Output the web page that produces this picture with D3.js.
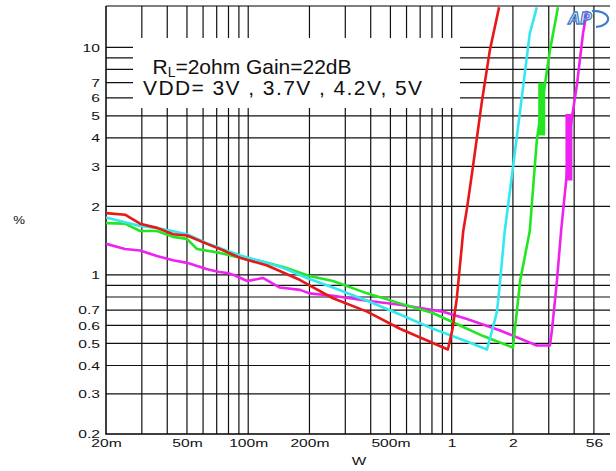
<!DOCTYPE html>
<html>
<head>
<meta charset="utf-8">
<script src="https://cdn.jsdelivr.net/npm/d3@7"></script>
<style>
  body { margin: 0; background: #fff; }
  text { font-family: "Liberation Sans", Arial, sans-serif; }
</style>
</head>
<body>
<script>
// THD+N (%) vs output power (W), RL=2ohm, Gain=22dB
var xTickVals = [0.02, 0.05, 0.1, 0.2, 0.5, 1, 2, 5];
var xTickText = ['20m', '50m', '100m', '200m', '500m', '1', '2', '56'];
var xGridVals = [0.03, 0.04, 0.05, 0.06, 0.07, 0.08, 0.09, 0.1, 0.2, 0.3, 0.4, 0.5, 0.6, 0.7, 0.8, 0.9, 1, 2, 3, 4, 5];
var yTickVals = [10, 7, 6, 5, 4, 3, 2, 1, 0.7, 0.6, 0.5, 0.4, 0.3, 0.2];
var yGridVals = [10, 9, 8, 7, 6, 5, 4, 3, 2, 1, 0.9, 0.8, 0.7, 0.6, 0.5, 0.4, 0.3];

var red = [[0.02,1.87],[0.0248,1.84],[0.0294,1.68],[0.0356,1.61],[0.0427,1.51],[0.05,1.49],[0.0627,1.37],
  [0.0726,1.30],[0.091,1.19],[0.124,1.10],[0.18,0.95],[0.2,0.90],[0.261,0.79],[0.384,0.69],[0.557,0.58],[0.958,0.47],
  [1.01,0.58],[1.06,0.79],[1.14,1.56],[1.19,1.97],[1.27,2.96],[1.41,5.84],[1.54,9.7],[1.71,15]];
var cyan = [[0.02,1.79],[0.0294,1.64],[0.0356,1.61],[0.05,1.51],[0.0627,1.38],[0.08,1.27],[0.091,1.22],
  [0.1,1.19],[0.124,1.13],[0.15,1.07],[0.2,0.96],[0.261,0.88],[0.384,0.77],[0.557,0.67],[0.808,0.58],[1.19,0.51],
  [1.49,0.47],[1.58,0.57],[1.67,0.69],[1.73,0.94],[1.82,1.54],[2.0,2.96],[2.17,5.27],[2.42,11.5],[2.62,15]];
var green = [[0.02,1.69],[0.0248,1.68],[0.0294,1.56],[0.0356,1.56],[0.0427,1.47],[0.05,1.44],[0.056,1.30],
  [0.0726,1.25],[0.084,1.21],[0.1,1.18],[0.124,1.13],[0.15,1.08],[0.2,0.99],[0.261,0.94],[0.384,0.83],[0.557,0.75],
  [0.808,0.68],[1.19,0.58],[1.42,0.54],[2.0,0.48],[2.17,0.94],[2.42,1.56],[2.62,3.89],[2.77,5.5],[3.04,9.7],[3.33,15]];
var magenta = [[0.02,1.37],[0.0248,1.30],[0.0294,1.28],[0.0356,1.21],[0.0427,1.16],[0.05,1.13],[0.063,1.06],
  [0.072,1.03],[0.079,1.02],[0.085,1.0],[0.099,0.94],[0.118,0.97],[0.143,0.88],[0.18,0.86],[0.2,0.83],
  [0.261,0.81],[0.384,0.77],[0.557,0.74],[0.9,0.69],[1.19,0.64],[1.73,0.57],[2.62,0.49],
  [3.04,0.49],[3.11,0.57],[3.29,0.94],[3.45,1.56],[3.68,2.78],[3.77,4.0],[4.13,6.9],[4.42,11.5],[4.62,14.5]];
// thick vertical bursts near clipping
var greenBurst = [[2.77,4.1],[2.77,7.0]];
var magentaBurst = [[3.77,2.6],[3.77,5.1]];

(function() {
  var series = [
    {name: '5V', data: magenta, burst: magentaBurst, color: '#ee22ee'},
    {name: '4.2V', data: green, burst: greenBurst, color: '#22e622'},
    {name: '3.7V', data: cyan, burst: null, color: '#33e8f0'},
    {name: '3V', data: red, burst: null, color: '#e81818'}
  ];

  var width = 616, height = 471;
  var pLeft = 106, pRight = 610, pTop = 6, pBottom = 434;
  var stretch = 1.36;   // tick labels in the original are wide

  var svg = d3.select('body').append('svg')
    .attr('width', width)
    .attr('height', height);

  var x = d3.scaleLog().domain([0.02, 6]).range([pLeft, pRight]);
  var y = d3.scaleLog().domain([0.2, 15.2]).range([pBottom, pTop]);

  // grid
  var grid = svg.append('g').attr('stroke', '#111').attr('stroke-width', 1.2);
  grid.selectAll('.vg').data(xGridVals).enter().append('line')
    .attr('x1', function(d) { return x(d); })
    .attr('x2', function(d) { return x(d); })
    .attr('y1', pTop).attr('y2', pBottom);
  grid.selectAll('.hg').data(yGridVals).enter().append('line')
    .attr('x1', pLeft).attr('x2', pRight)
    .attr('y1', function(d) { return y(d); })
    .attr('y2', function(d) { return y(d); });

  // legend box covers the grid
  svg.append('rect')
    .attr('x', 133).attr('y', 38)
    .attr('width', 327).attr('height', 70)
    .attr('fill', '#fff');

  // frame
  svg.append('path')
    .attr('d', 'M' + pLeft + ',' + pTop + 'V' + pBottom + 'H' + pRight)
    .attr('fill', 'none').attr('stroke', '#000').attr('stroke-width', 1.5);
  svg.append('line')
    .attr('x1', pLeft).attr('x2', pRight).attr('y1', pTop).attr('y2', pTop)
    .attr('stroke', '#000').attr('stroke-width', 1.2);

  // axes text
  var xAxis = d3.axisBottom(x).tickValues(xTickVals)
    .tickFormat(function(d, i) { return xTickText[i]; })
    .tickSize(0).tickPadding(5);
  var gx = svg.append('g').attr('transform', 'translate(0,' + pBottom + ')').call(xAxis);
  gx.select('.domain').remove();
  gx.selectAll('text').attr('font-size', 11.5).attr('fill', '#111')
    .attr('font-family', '"Liberation Sans", Arial, sans-serif')
    .attr('transform', 'scale(' + stretch + ',1)');

  var yAxis = d3.axisLeft(y).tickValues(yTickVals)
    .tickFormat(function(d) { return String(d); })
    .tickSize(0).tickPadding(5);
  var gy = svg.append('g').attr('transform', 'translate(' + pLeft + ',0)').call(yAxis);
  gy.select('.domain').remove();
  gy.selectAll('text').attr('font-size', 11.5).attr('fill', '#111')
    .attr('font-family', '"Liberation Sans", Arial, sans-serif')
    .attr('x', -6 / stretch)
    .attr('transform', 'scale(' + stretch + ',1)');

  svg.append('text').attr('transform', 'translate(359,465) scale(1.4,1)')
    .attr('text-anchor', 'middle')
    .attr('font-size', 11).attr('fill', '#111').text('W');
  svg.append('text').attr('transform', 'translate(19,224) scale(1.2,1)')
    .attr('text-anchor', 'middle')
    .attr('font-size', 11).attr('fill', '#111').text('%');

  // curves
  var line = d3.line()
    .x(function(d) { return x(d[0]); })
    .y(function(d) { return y(d[1]); });

  svg.append('clipPath').attr('id', 'plotclip')
    .append('rect').attr('x', pLeft).attr('y', pTop)
    .attr('width', pRight - pLeft).attr('height', pBottom - pTop);

  var curves = svg.append('g').attr('clip-path', 'url(#plotclip)');
  series.forEach(function(s) {
    curves.append('path')
      .datum(s.data)
      .attr('d', line)
      .attr('fill', 'none')
      .attr('stroke', s.color)
      .attr('stroke-width', 2.6)
      .attr('stroke-linejoin', 'round');
    if (s.burst) {
      curves.append('path')
        .datum(s.burst)
        .attr('d', line)
        .attr('fill', 'none')
        .attr('stroke', s.color)
        .attr('stroke-width', 7);
    }
  });

  // legend text, fitted to the widths of the original
  var legend = svg.append('g').attr('fill', '#111');
  var t1 = legend.append('text').attr('x', 152.5).attr('y', 74).attr('font-size', 21);
  t1.append('tspan').text('R');
  t1.append('tspan').attr('font-size', 14).attr('dy', 3).text('L');
  t1.append('tspan').attr('dy', -3).text('=2ohm Gain=22dB');
  var w1 = t1.node().getComputedTextLength();
  t1.attr('letter-spacing', (199 - w1) / 17);

  var t2 = legend.append('text').attr('x', 143).attr('y', 95).attr('font-size', 21)
    .text('VDD= 3V , 3.7V , 4.2V, 5V');
  var w2 = t2.node().getComputedTextLength();
  t2.attr('letter-spacing', (279 - w2) / 24);

  // AP logo
  var logo = svg.append('g').attr('transform', 'translate(566,8)');
  logo.append('text').attr('x', 2).attr('y', 16)
    .attr('font-size', 17).attr('font-style', 'italic').attr('font-weight', 'bold')
    .attr('fill', '#fff').attr('stroke', '#3d7cc9').attr('stroke-width', 1.3)
    .text('AP');
  logo.append('path')
    .attr('d', 'M26,3 A14,8 0 0 1 30,19')
    .attr('fill', 'none').attr('stroke', '#3d7cc9').attr('stroke-width', 2.2);
})();
</script>
</body>
</html>
